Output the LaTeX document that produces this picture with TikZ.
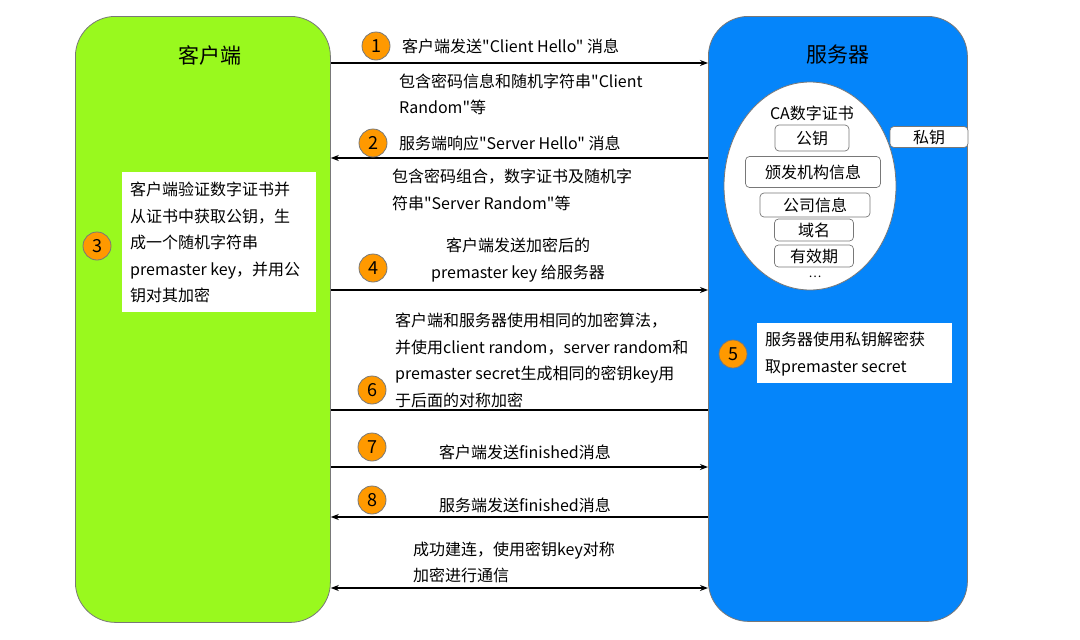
\documentclass[tikz,border=0pt]{standalone}
\usepackage{fontspec}
\setmainfont{Noto Sans CJK SC}[Ligatures=TeXOff]
\usetikzlibrary{shapes.geometric,arrows.meta}
\definecolor{cgreen}{RGB}{153,249,30}
\definecolor{cblue}{RGB}{5,133,250}
\definecolor{corange}{RGB}{255,153,0}
\definecolor{cgray}{RGB}{120,120,120}
\tikzset{
  party/.style={draw=cgray, line width=0.8pt, rounded corners=40pt, anchor=north west, inner sep=0pt},
  title/.style={font=\fontsize{21}{25}\selectfont, inner sep=0pt},
  txt/.style={font=\fontsize{16}{26.5}\selectfont, inner sep=0pt, align=left},
  num/.style={circle, draw=cgray, line width=0.8pt, fill=corange, minimum size=28pt, inner sep=0pt, font=\fontsize{18}{20}\selectfont},
  wbox/.style={fill=white, anchor=north west, inner sep=0pt},
  item/.style={draw=cgray, line width=0.7pt, fill=white, rounded corners=4pt, inner sep=0pt, font=\fontsize{16}{18}\selectfont},
  arr/.style={line width=1.3pt, -{Stealth[length=8pt,width=6pt]}},
  larr/.style={line width=1.3pt, {Stealth[length=8pt,width=6pt]}-},
  barr/.style={line width=1.3pt, {Stealth[length=8pt,width=6pt]}-{Stealth[length=8pt,width=6pt]}},
  plain/.style={line width=1.3pt}
}
\begin{document}
\begin{tikzpicture}[x=1pt,y=-1pt]
\useasboundingbox (0,0) rectangle (1080,640);
% parties
\node[party, fill=cgreen, minimum width=255pt, minimum height=606pt] (client) at (75,16) {};
\node[party, fill=cblue, minimum width=259pt, minimum height=605pt] (server) at (708,16) {};
\node[title] (ctitle) at (210,55) {客户端};
\node[title] (stitle) at (838,55) {服务器};
% certificate
\node[ellipse, draw=cgray, line width=0.8pt, fill=white, minimum width=172pt, minimum height=208pt, inner sep=0pt] (cert) at (810,186) {};
\node[font=\fontsize{16}{18}\selectfont, inner sep=0pt] (catitle) at (812,113) {CA数字证书};
\node[item, minimum width=74pt, minimum height=26pt] (pub) at (812,138) {公钥};
\node[item, minimum width=135pt, minimum height=31pt] (issuer) at (813,172) {颁发机构信息};
\node[item, minimum width=110pt, minimum height=24pt] (comp) at (815,205) {公司信息};
\node[item, minimum width=79pt, minimum height=22pt] (domain) at (814,230) {域名};
\node[item, minimum width=79pt, minimum height=22pt] (valid) at (814,256) {有效期};
\node[font=\fontsize{12}{14}\selectfont, inner sep=0pt] (dots) at (815,277) {…};
\node[item, minimum width=78pt, minimum height=21pt] (priv) at (929,137) {私钥};
% white boxes
\node[wbox, minimum width=194pt, minimum height=140pt] (box3) at (122,172) {};
\node[txt, anchor=west] (t3) at (130,242.5) {客户端验证数字证书并\\从证书中获取公钥，生\\成一个随机字符串\\premaster key，并用公\\钥对其加密};
\node[wbox, minimum width=195pt, minimum height=60pt] (box5) at (757,323) {};
\node[txt, anchor=west] (t5) at (765,354) {服务器使用私钥解密获\\取premaster secret};
% arrow y positions
\coordinate (y1) at (0,63);
\coordinate (y2) at (0,158);
\coordinate (y4) at (0,290);
\coordinate (y6) at (0,410);
\coordinate (y7) at (0,467);
\coordinate (y8) at (0,517);
\coordinate (y9) at (0,588);
\draw[arr] (client.east |- y1) -- (server.west |- y1);
\draw[larr] (client.east |- y2) -- (server.west |- y2);
\draw[arr] (client.east |- y4) -- (server.west |- y4);
\draw[plain] (client.east |- y6) -- (server.west |- y6);
\draw[arr] (client.east |- y7) -- (server.west |- y7);
\draw[larr] (client.east |- y8) -- (server.west |- y8);
\draw[barr] (client.east |- y9) -- (server.west |- y9);
% labels
\node[txt, anchor=west] (l1) at (402,46) {客户端发送"Client Hello" 消息};
\node[txt, anchor=west] (l1b) at (399,94.5) {包含密码信息和随机字符串"Client\\Random"等};
\node[txt, anchor=west] (l2) at (399,143) {服务端响应"Server Hello" 消息};
\node[txt, anchor=west] (l2b) at (392,190) {包含密码组合，数字证书及随机字\\符串"Server Random"等};
\node[txt, align=center] (l4) at (518,260) {客户端发送加密后的\\premaster key 给服务器};
\node[txt, anchor=west] (l6) at (395,360.5) {客户端和服务器使用相同的加密算法，\\并使用client random，server random和\\premaster secret生成相同的密钥key用\\于后面的对称加密};
\node[txt] (l7) at (525,452) {客户端发送finished消息};
\node[txt] (l8) at (525,505) {服务端发送finished消息};
\node[txt, anchor=west] (l9) at (413,562.5) {成功建连，使用密钥key对称\\加密进行通信};
% step numbers
\node[num] (n1) at (376,46) {1};
\node[num] (n2) at (373,143) {2};
\node[num] (n3) at (97,246) {3};
\node[num] (n4) at (373,268) {4};
\node[num] (n5) at (733,354) {5};
\node[num] (n6) at (372,390) {6};
\node[num] (n7) at (372,447) {7};
\node[num] (n8) at (372,500) {8};
\end{tikzpicture}
\end{document}
